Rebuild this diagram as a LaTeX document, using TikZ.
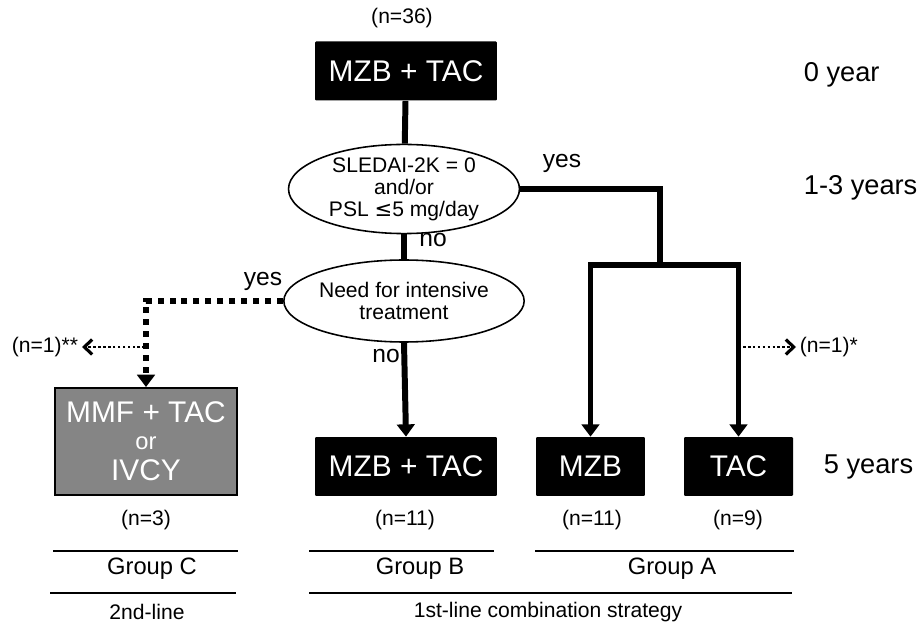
\documentclass[tikz,border=0pt]{standalone}
\usepackage{fontspec}
\setmainfont{Liberation Sans}
\newfontfamily\symfont{DejaVu Sans}
\usetikzlibrary{arrows.meta,positioning,shapes.geometric}

\begin{document}
\begin{tikzpicture}[x=0.02cm, y=-0.02cm,
    every node/.style={font=\fontsize{12}{14}\selectfont, inner sep=2pt},
    bx/.style={rectangle, fill=black, text=white, rounded corners=0.6pt,
               inner sep=0pt, minimum height=1.18cm,
               font=\fontsize{17}{20}\selectfont},
    gbx/.style={rectangle, fill=black!48, draw=black, line width=1.1pt,
                text=white, align=center, inner sep=0pt,
                minimum width=3.64cm, minimum height=2.14cm,
                font=\fontsize{17}{20}\selectfont},
    ell/.style={ellipse, draw, line width=0.9pt, fill=white, align=center,
                inner sep=0pt, font=\fontsize{12}{12.5}\selectfont},
    flow/.style={line width=3.4pt, line join=miter},
    tip/.style={-{Triangle[length=7pt, width=10pt]}},
    flowdot/.style={flow, dash pattern=on 3.4pt off 3.4pt},
    side/.style={line width=1.5pt, dash pattern=on 1.5pt off 1.3pt,
                 -{Straight Barb[length=4.5pt, width=8.5pt, line width=1.8pt]}},
    lbl/.style={font=\fontsize{14}{16}\selectfont},
    yr/.style={anchor=west, font=\fontsize{15.5}{18}\selectfont},
    grp/.style={font=\fontsize{13.5}{16}\selectfont},
    rule/.style={line width=1.1pt},
  ]
  \useasboundingbox (0,0) rectangle (919,624);

  % boxes and decisions
  \node[bx, minimum width=3.64cm] (start) at (406, 71) {MZB + TAC};
  \node (n36) at (402, 18) {(n=36)};
  \node[ell, minimum width=4.62cm, minimum height=1.74cm] (remit) at (404, 189)
    {SLEDAI-2K = 0\\and/or\\PSL {\symfont ≤}5 mg/day};
  \node[ell, minimum width=4.64cm, minimum height=1.64cm] (need) at (404, 301)
    {Need for intensive\\treatment};
  \node[gbx] (grpC) at (146, 441.5)
    {MMF + TAC\\[-5pt]{\fontsize{13.5}{14}\selectfont or}\\[-2pt]IVCY};
  \node[bx, minimum width=3.64cm] (grpB) at (406, 466.5) {MZB + TAC};
  \node[bx, minimum width=2.18cm] (mzb) at (590.5, 466.5) {MZB};
  \node[bx, minimum width=2.18cm] (tac) at (738.5, 466.5) {TAC};

  % time labels
  \node[yr] (y0) at (800, 75) {0 year};
  \node[yr] (y13) at (800, 188) {1-3 years};
  \node[yr] (y5) at (820, 467) {5 years};

  % branch labels
  \node[lbl] (yes1) at (562, 163) {yes};
  \node[lbl] (no1) at (433, 240) {no};
  \node[lbl] (yes2) at (263, 281) {yes};
  \node[lbl] (no2) at (386, 356) {no};

  % flow
  \coordinate (split) at (660, 265);
  \coordinate (drop) at (145, 347);
  \draw[flow] (start) -- (remit);
  \draw[flow] (remit.south) -- (need.north);
  \draw[flow] (remit.east) -| (split);
  \draw[flow, tip] (split) -| (mzb.north);
  \draw[flow, tip] (split) -| (tac.north);
  \draw[flow, tip] (need.south) -- (grpB.north);
  \draw[flowdot, tip] (need.west) -| (grpC.north);

  % drop-outs
  \node[anchor=east] (outC) at (82, 347) {(n=1)**};
  \node[anchor=west] (outA) at (796, 347) {(n=1)*};
  \draw[side] (drop) -- (outC.east);
  \coordinate (dropA) at (743, 347);
  \draw[side] (dropA) -- (outA.west);

  % counts
  \node (nC) at (146, 520) {(n=3)};
  \node (nB) at (405, 520) {(n=11)};
  \node (nA1) at (592, 520) {(n=11)};
  \node (nA2) at (738, 520) {(n=9)};

  % groups
  \draw[rule] (53, 551) -- (238, 551);
  \draw[rule] (309, 551) -- (494, 551);
  \draw[rule] (535, 551) -- (794, 551);
  \draw[rule] (50, 593) -- (236, 593);
  \draw[rule] (309, 593) -- (792, 593);
  \node[grp] (gC) at (152, 569) {Group C};
  \node[grp] (gB) at (420, 569) {Group B};
  \node[grp] (gA) at (672, 569) {Group A};
  \node (line2) at (147, 612) {2nd-line};
  \node (line1) at (548, 612) {1st-line combination strategy};
\end{tikzpicture}
\end{document}
